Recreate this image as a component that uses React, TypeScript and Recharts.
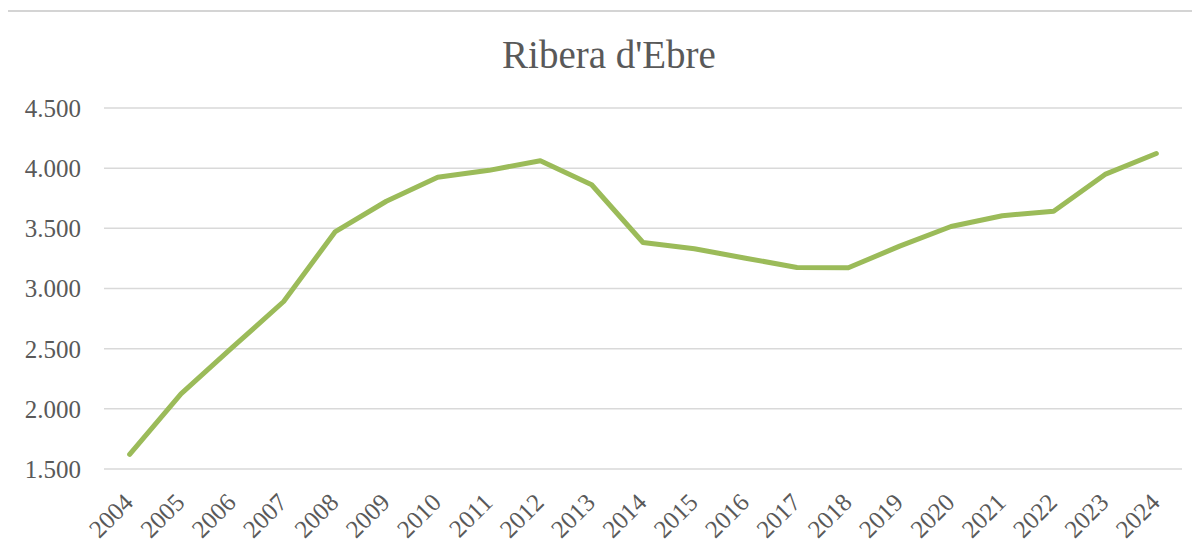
import { CartesianGrid, Line, LineChart, XAxis, YAxis } from 'recharts';

const years = [
  '2004', '2005', '2006', '2007', '2008', '2009', '2010', '2011', '2012', '2013', '2014',
  '2015', '2016', '2017', '2018', '2019', '2020', '2021', '2022', '2023', '2024',
];
const population = [
  1622, 2125, 2510, 2892, 3470, 3725, 3925, 3982, 4062, 3862, 3382,
  3330, 3252, 3175, 3172, 3352, 3515, 3605, 3642, 3948, 4122,
];
const yTicks = [1500, 2000, 2500, 3000, 3500, 4000, 4500];

const chartTitle = "Ribera d'Ebre";
const fontFamily = '"Liberation Serif", serif';
const textColor = '#595959';
const frameColor = '#d4d4d4';

const rows = years.map((year, i) => ({ year, value: population[i] }));

// half a category on each side, like a band axis
const bandPad = 1078 / years.length / 2;

function formatThousands(value: number) {
  return String(value).replace(/\B(?=(\d{3})+(?!\d))/g, '.');
}

function YearTick({ x, y, payload }: { x?: number; y?: number; payload?: { value: string } }) {
  if (typeof x !== 'number' || typeof y !== 'number' || !payload) {
    return null;
  }
  const tx = x + 5;
  const ty = y + 35;
  return (
    <text
      x={tx}
      y={ty}
      textAnchor="end"
      transform={`rotate(-45, ${tx}, ${ty})`}
      fill={textColor}
      fontSize={25}
      fontFamily={fontFamily}
    >
      {payload.value}
    </text>
  );
}

export default function App() {
  return (
    <div style={{ position: 'relative', width: 1200, height: 553, margin: -8, overflow: 'hidden', background: '#ffffff' }}>
      <div style={{ position: 'absolute', left: 6, top: 10, width: 2, height: 560, background: frameColor }} />
      <div style={{ position: 'absolute', left: 6, top: 10, width: 1210, height: 2, background: frameColor }} />
      <div
        style={{
          position: 'absolute',
          left: 0,
          top: 35,
          width: 1218,
          textAlign: 'center',
          fontFamily,
          fontSize: 39,
          lineHeight: '39px',
          color: textColor,
        }}
      >
        {chartTitle}
      </div>
      <div style={{ position: 'absolute', left: 0, top: 0 }}>
        <LineChart width={1200} height={553} data={rows} margin={{ top: 108, right: 18, bottom: 0, left: 0 }}>
          <CartesianGrid vertical={false} stroke="#d9d9d9" strokeWidth={1.5} />
          <XAxis
            dataKey="year"
            interval={0}
            height={84}
            padding={{ left: bandPad, right: bandPad }}
            axisLine={false}
            tickLine={false}
            tickSize={0}
            tickMargin={0}
            tick={<YearTick />}
          />
          <YAxis
            width={104}
            domain={[1500, 4500]}
            ticks={yTicks}
            allowDataOverflow
            axisLine={false}
            tickLine={false}
            tickSize={0}
            tickMargin={23}
            tickFormatter={formatThousands}
            tick={{ fill: textColor, fontSize: 25, fontFamily }}
          />
          <Line
            type="linear"
            dataKey="value"
            stroke="#9bbb59"
            strokeWidth={5}
            strokeLinecap="round"
            strokeLinejoin="round"
            dot={false}
            activeDot={false}
            isAnimationActive={false}
          />
        </LineChart>
      </div>
    </div>
  );
}
